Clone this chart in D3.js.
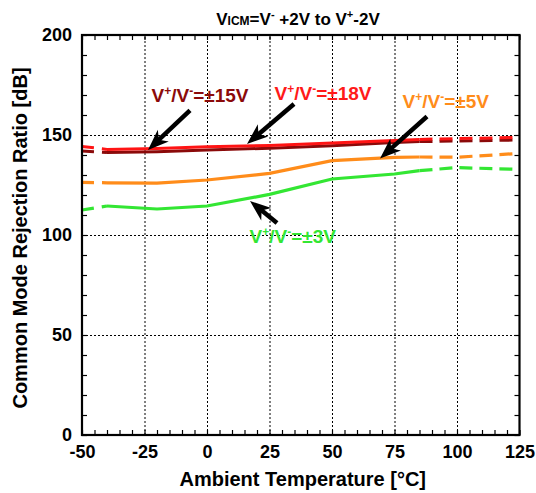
<!DOCTYPE html>
<html><head><meta charset="utf-8">
<script src="https://cdn.jsdelivr.net/npm/d3@7/dist/d3.min.js"></script>
<style>
body{margin:0;background:#fff;}
text{font-family:"Liberation Sans",Arial,sans-serif;font-weight:bold;}
</style></head>
<body>
<svg id="chart" width="536" height="493"></svg>
<script>
// ---- data ----
const tempSolid = [-40, -20, 0, 25, 50, 75, 85];
const tempDashLeft = [-50, -40];
const tempDashRight = [85, 100, 125];

const red18Solid = [142.8, 143.3, 144.1, 144.8, 146.0, 147.3, 147.8];
const red18Left = [144.3, 142.8];
const red18Right = [147.8, 148.2, 148.8];

const dark15Solid = [141.2, 141.6, 142.5, 143.4, 144.6, 146.2, 146.7];
const dark15Left = [142.0, 141.2];
const dark15Right = [146.7, 147.0, 147.5];

const orange5Solid = [126.1, 125.9, 127.5, 130.8, 137.2, 138.8, 139.0];
const orange5Left = [126.3, 126.1];
const orange5Right = [139.0, 138.9, 140.8];

const green3Solid = [114.5, 113.0, 114.5, 120.3, 128.0, 130.5, 132.2];
const green3Left = [112.5, 114.5];
const green3Right = [132.2, 133.7, 132.8];

const xTicks = [-50, -25, 0, 25, 50, 75, 100, 125];
const yTicks = [0, 50, 100, 150, 200];

const seriesNames = ["V+/V-=±3V", "V+/V-=±5V", "V+/V-=±15V", "V+/V-=±18V"];

// ---- layout ----
const svg = d3.select("#chart");
const L = 82, R = 519.5, T = 35, B = 435;
const x = d3.scaleLinear().domain([-50, 125]).range([L, R]);
const y = d3.scaleLinear().domain([0, 200]).range([B, T]);

// gridlines
const gx = svg.append("g").attr("transform", `translate(0,${B})`)
  .call(d3.axisBottom(x).tickValues(xTicks.slice(1, -1)).tickSize(-(B - T)).tickFormat(""));
const gy = svg.append("g").attr("transform", `translate(${L},0)`)
  .call(d3.axisLeft(y).tickValues(yTicks.slice(1, -1)).tickSize(-(R - L)).tickFormat(""));
[gx, gy].forEach(g => {
  g.select(".domain").remove();
  g.selectAll("line").attr("stroke", "#000").attr("stroke-width", 1).attr("stroke-dasharray", "2,2");
});

// minor ticks (inward)
const xMinor = d3.range(-50, 126, 5);
const yMinor = d3.range(0, 201, 10);
const tickGroups = [
  svg.append("g").attr("transform", `translate(0,${B})`).call(d3.axisBottom(x).tickValues(xMinor).tickSize(-5).tickFormat("")),
  svg.append("g").attr("transform", `translate(0,${T})`).call(d3.axisTop(x).tickValues(xMinor).tickSize(-5).tickFormat("")),
  svg.append("g").attr("transform", `translate(${L},0)`).call(d3.axisLeft(y).tickValues(yMinor).tickSize(-5).tickFormat("")),
  svg.append("g").attr("transform", `translate(${R},0)`).call(d3.axisRight(y).tickValues(yMinor).tickSize(-5).tickFormat(""))
];
tickGroups.forEach(g => { g.select(".domain").remove(); g.selectAll("line").attr("stroke", "#000").attr("stroke-width", 1.2); });

// tick labels
const xl = svg.append("g").attr("transform", `translate(0,${B})`)
  .call(d3.axisBottom(x).tickValues(xTicks).tickSize(0).tickPadding(10).tickFormat(d => String(d)));
xl.select(".domain").remove();
xl.selectAll("text").attr("font-size", 18).attr("font-family", "Liberation Sans, Arial, sans-serif").attr("font-weight", "bold").attr("fill", "#000");
const yl = svg.append("g").attr("transform", `translate(${L},0)`)
  .call(d3.axisLeft(y).tickValues(yTicks).tickSize(0).tickPadding(10).tickFormat(d => String(d)));
yl.select(".domain").remove();
yl.selectAll("text").attr("font-size", 18).attr("font-family", "Liberation Sans, Arial, sans-serif").attr("font-weight", "bold").attr("fill", "#000");

// lines
const line = d3.line().x(d => x(d[0])).y(d => y(d[1]));
const zip = (a, b) => a.map((t, i) => [t, b[i]]);
const series = [
  {name: seriesNames[0], color: "#33e633", w: 3.2, solid: green3Solid, left: green3Left, right: green3Right},
  {name: seriesNames[1], color: "#ff8c1a", w: 3.2, solid: orange5Solid, left: orange5Left, right: orange5Right},
  {name: seriesNames[2], color: "#8b0a0a", w: 3.0, solid: dark15Solid, left: dark15Left, right: dark15Right},
  {name: seriesNames[3], color: "#ff1414", w: 3.0, solid: red18Solid, left: red18Left, right: red18Right}
];
series.forEach(s => {
  svg.append("path").datum(zip(tempSolid, s.solid)).attr("d", line)
    .attr("fill", "none").attr("stroke", s.color).attr("stroke-width", s.w);
  svg.append("path").datum(zip(tempDashLeft, s.left)).attr("d", line)
    .attr("fill", "none").attr("stroke", s.color).attr("stroke-width", s.w).attr("stroke-dasharray", "12,8");
  svg.append("path").datum(zip(tempDashRight, s.right)).attr("d", line)
    .attr("fill", "none").attr("stroke", s.color).attr("stroke-width", s.w).attr("stroke-dasharray", "13,7");
});

// frame
svg.append("rect").attr("x", L).attr("y", T).attr("width", R - L).attr("height", B - T)
  .attr("fill", "none").attr("stroke", "#000").attr("stroke-width", 2.2);

// annotations (data coords)
const annots = [
  {label: "±15V", color: "#8b0a0a", tx: -22.2, ty: 166.7, from: [-6.8, 162.3], to: [-23.6, 142.5]},
  {label: "±18V", color: "#ff1a1a", tx: 27.0, ty: 167.5, from: [34.8, 165.5], to: [16, 145.5]},
  {label: "±5V", color: "#ff8c1a", tx: 78.2, ty: 163.4, from: [88, 159.25], to: [69.2, 138.25]},
  {label: "±3V", color: "#33e633", tx: 17.0, ty: 96, from: [28, 106], to: [17.2, 117]}
];
annots.forEach(a => {
  const t = svg.append("text").attr("x", x(a.tx)).attr("y", y(a.ty)).attr("font-size", 19).attr("fill", a.color);
  t.append("tspan").text("V");
  t.append("tspan").attr("font-size", 12).attr("dy", -7).text("+");
  t.append("tspan").attr("dy", 7).text("/V");
  t.append("tspan").attr("font-size", 12).attr("dy", -7).text("-");
  t.append("tspan").attr("dy", 7).text("=" + a.label);
  // arrow
  const x1 = x(a.from[0]), y1 = y(a.from[1]), x2 = x(a.to[0]), y2 = y(a.to[1]);
  const ang = Math.atan2(y2 - y1, x2 - x1);
  const hl = 17, hw = 8;
  const bx = x2 - hl * Math.cos(ang), by = y2 - hl * Math.sin(ang);
  svg.append("line").attr("x1", x1).attr("y1", y1).attr("x2", bx + 3 * Math.cos(ang)).attr("y2", by + 3 * Math.sin(ang))
    .attr("stroke", "#000").attr("stroke-width", 4.5);
  const nx = -Math.sin(ang), ny = Math.cos(ang);
  const notch = 4;
  svg.append("path").attr("d",
    `M${x2},${y2}L${bx + nx * hw - notch * Math.cos(ang)},${by + ny * hw - notch * Math.sin(ang)}` +
    `L${bx + 2 * Math.cos(ang)},${by + 2 * Math.sin(ang)}` +
    `L${bx - nx * hw - notch * Math.cos(ang)},${by - ny * hw - notch * Math.sin(ang)}Z`)
    .attr("fill", "#000");
});

// title
const title = svg.append("text").attr("x", 298).attr("y", 25).attr("text-anchor", "middle").attr("font-size", 17).attr("fill", "#000");
title.append("tspan").text("V");
title.append("tspan").attr("font-size", 12).text("ICM");
title.append("tspan").text("=V");
title.append("tspan").attr("font-size", 11).attr("dy", -7).text("-");
title.append("tspan").attr("dy", 7).text(" +2V to V");
title.append("tspan").attr("font-size", 11).attr("dy", -7).text("+");
title.append("tspan").attr("dy", 7).text("-2V");

// axis titles
svg.append("text").attr("x", (L + R) / 2 + 2).attr("y", 486).attr("text-anchor", "middle")
  .attr("font-size", 20).attr("fill", "#000").text("Ambient Temperature [°C]");
svg.append("text").attr("transform", `translate(27,${(T + B) / 2 + 3}) rotate(-90)`).attr("text-anchor", "middle")
  .attr("font-size", 20).attr("fill", "#000").text("Common Mode Rejection Ratio [dB]");
</script>
</body></html>
